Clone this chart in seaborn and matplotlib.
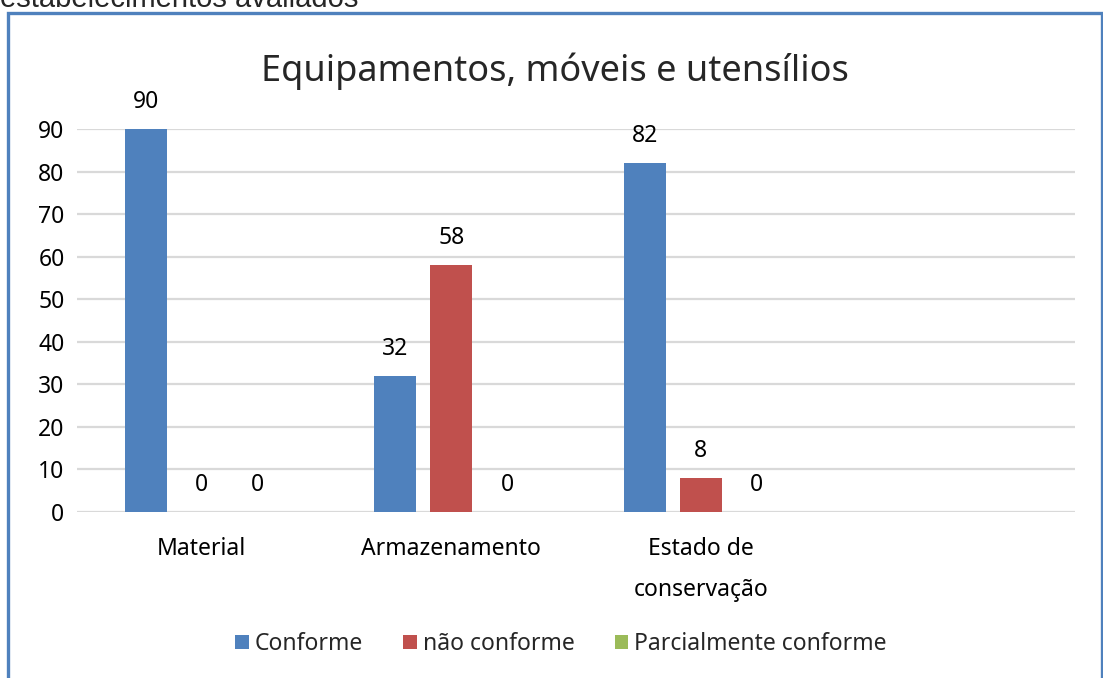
import pandas as pd
import seaborn as sns
import matplotlib.pyplot as plt
from matplotlib.patches import Rectangle

# dados do grafico
categorias = ["Material", "Armazenamento", "Estado de\nconservação"]
series = ["Conforme", "não conforme", "Parcialmente conforme"]
conforme = [90, 32, 82]
nao_conforme = [0, 58, 8]
parcial = [0, 0, 0]
cores = ["#4F81BD", "#C0504D", "#9BBB59"]

linhas = []
for i, cat in enumerate(categorias):
    linhas.append((cat, series[0], conforme[i]))
    linhas.append((cat, series[1], nao_conforme[i]))
    linhas.append((cat, series[2], parcial[i]))
df = pd.DataFrame(linhas, columns=["categoria", "serie", "valor"])

sns.set_style("white")
plt.rcParams['font.family'] = ['Noto Sans', 'DejaVu Sans']

fig = plt.figure(figsize=(11.03, 6.78), dpi=100)
ax = fig.add_axes([77 / 1103, 166 / 678, 998 / 1103, 383 / 678])

sns.barplot(data=df, x="categoria", y="valor", hue="serie", order=categorias,
            hue_order=series, palette=cores, width=0.672, gap=0.25,
            linewidth=0, saturation=1, ax=ax)

for c in ax.containers:
    ax.bar_label(c, padding=11, fontsize=16.5, color="black")

ax.set_xlim(-0.5, 3.5)
ax.set_ylim(0, 90)
ax.set_yticks(range(0, 91, 10))
ax.yaxis.grid(True, color="#D9D9D9", linewidth=1.6)
ax.set_axisbelow(True)
for s in ax.spines.values():
    s.set_visible(False)
ax.tick_params(axis="both", length=0, labelsize=16.5, colors="black")
ax.tick_params(axis="y", pad=9)
ax.tick_params(axis="x", pad=18)
for lbl in ax.get_xticklabels():
    lbl.set_linespacing(1.95)
    lbl.set_verticalalignment("top")
ax.set_xlabel("")
ax.set_ylabel("")

handles, labels = ax.get_legend_handles_labels()
ax.get_legend().remove()
fig.legend(handles, labels, loc="center", bbox_to_anchor=(561 / 1103, 1 - 644 / 678),
           ncol=3, frameon=False, fontsize=16.5, handlelength=0.6, handleheight=0.6,
           handletextpad=0.25, columnspacing=1.75)

fig.text(555 / 1103, 1 - 71 / 678, "Equipamentos, móveis e utensílios",
         ha="center", va="center", fontsize=26)

# texto cortado no topo
fig.text(0, 1 - 7 / 678, "estabelecimentos avaliados", ha="left", va="baseline",
         fontsize=21, family="Liberation Sans")

# borda do grafico
fig.patches.append(Rectangle((7.5 / 1103, -0.05), 1094 / 1103, 0.05 + 665 / 678,
                             transform=fig.transFigure, fill=False,
                             edgecolor="#4F81BD", linewidth=2.4))

plt.savefig("out.png", dpi=100)
